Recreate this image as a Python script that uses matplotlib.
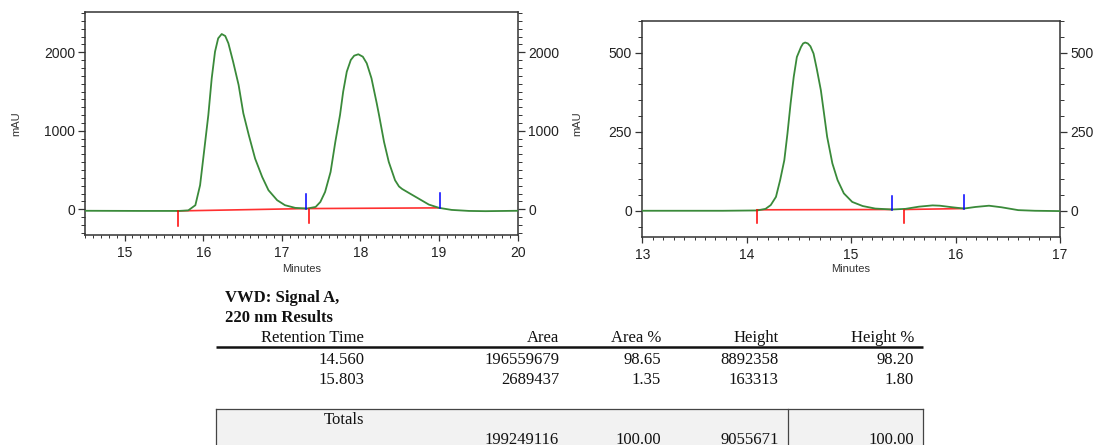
import matplotlib
matplotlib.use("Agg")
import matplotlib.pyplot as plt
from matplotlib.ticker import MultipleLocator

plt.rcParams["font.family"] = ["Liberation Sans", "DejaVu Sans"]

# left chromatogram (minutes, mAU)
time_left = [14.50, 15.20, 15.69, 15.81, 15.90, 15.96, 16.01, 16.065, 16.108, 16.15,
             16.19, 16.235, 16.28, 16.32, 16.38, 16.45, 16.51, 16.58, 16.66, 16.75,
             16.83, 16.94, 17.04, 17.17, 17.32, 17.43, 17.49, 17.55, 17.62, 17.68,
             17.74, 17.78, 17.826, 17.877, 17.92, 17.973, 18.03, 18.08, 18.14, 18.207,
             18.236, 18.30, 18.36, 18.44, 18.49, 18.53, 18.63, 18.74, 18.87, 19.00,
             19.16, 19.38, 19.59, 19.84, 20.00]
mau_left = [-20, -22, -22, -15, 51, 306, 730, 1201, 1669, 2008,
            2178, 2233, 2208, 2115, 1881, 1584, 1223, 943, 645, 411,
            242, 115, 51, 17, 8, 29, 93, 220, 475, 857,
            1201, 1498, 1753, 1902, 1957, 1975, 1944, 1860, 1669, 1350,
            1201, 857, 603, 369, 290, 258, 199, 135, 59, 17,
            -9, -22, -25, -22, -20]
# peak start / end events (time, mAU at baseline)
start_t_left = [15.675, 17.34]
start_y_left = [-22, 8]
end_t_left = [17.31, 19.01]
end_y_left = [8, 17]

# right chromatogram
time_right = [13.00, 13.77, 14.10, 14.18, 14.23, 14.28, 14.32, 14.36, 14.39, 14.42,
              14.45, 14.48, 14.52, 14.54, 14.56, 14.585, 14.61, 14.64, 14.67, 14.71,
              14.74, 14.77, 14.82, 14.87, 14.93, 15.01, 15.11, 15.23, 15.39, 15.52,
              15.65, 15.78, 15.85, 15.97, 16.08, 16.19, 16.32, 16.44, 16.60, 16.76,
              17.00]
mau_right = [0, 0, 1, 6, 18, 44, 97, 160, 244, 339,
             423, 486, 518, 529, 532, 529, 520, 497, 450, 381,
             308, 234, 150, 97, 55, 28, 15, 7, 4, 6,
             13, 17, 16, 11, 7, 12, 16, 11, 2, 0,
             -1]
start_t_right = [14.10, 15.51]
start_y_right = [3, 4]
end_t_right = [15.39, 16.08]
end_y_right = [4, 7]

# results table
table_title = ["VWD: Signal A,", "220 nm Results"]
columns = ["Retention Time", "Area", "Area %", "Height", "Height %"]
rows = [["14.560", "196559679", "98.65", "8892358", "98.20"],
        ["15.803", "2689437", "1.35", "163313", "1.80"]]
totals = ["199249116", "100.00", "9055671", "100.00"]

W, H = 1093, 445
fig = plt.figure(figsize=(W / 100, H / 100), dpi=100)

green = "#3a8a3a"
axis_col = "#333333"


def chromatogram(rect, t, y, st, sy, et, ey, xlim, ylim, xmaj, ymaj, ymin, mark):
    ax = fig.add_axes(rect)
    ax.plot(t, y, color=green, lw=1.3, zorder=3)
    for i in range(len(st)):
        ax.plot([st[i], et[i]], [sy[i], ey[i]], color="#ff3030", lw=1.2, zorder=2)
        ax.plot([st[i], st[i]], [sy[i], sy[i] - mark], color="red", lw=1.1, zorder=4)
        ax.plot([et[i], et[i]], [ey[i], ey[i] + mark], color="blue", lw=1.1, zorder=4)
    ax.set_xlim(*xlim)
    ax.set_ylim(*ylim)
    ax.set_xticks(xmaj)
    ax.xaxis.set_minor_locator(MultipleLocator(0.1))
    ax.yaxis.set_major_locator(MultipleLocator(ymaj))
    ax.yaxis.set_minor_locator(MultipleLocator(ymin))
    for s in ax.spines.values():
        s.set_color(axis_col)
        s.set_linewidth(1.1)
    ax.tick_params(axis="y", which="both", left=True, right=True, labelleft=True,
                   labelright=True, direction="out", colors=axis_col,
                   labelcolor="#222222", labelsize=10)
    ax.tick_params(axis="y", which="major", length=5, width=0.9, pad=2.5)
    ax.tick_params(axis="y", which="minor", length=2.8, width=0.7)
    ax.tick_params(axis="x", which="both", direction="out", colors=axis_col,
                   labelcolor="#222222", labelsize=10)
    ax.tick_params(axis="x", which="major", length=4, width=0.9, pad=4)
    ax.tick_params(axis="x", which="minor", length=2.2, width=0.7)
    return ax


ax1 = chromatogram([85.3 / W, 1 - 234.7 / H, 432.4 / W, 222.4 / H],
                   time_left, mau_left, start_t_left, start_y_left, end_t_left, end_y_left,
                   (14.5, 20), (-325, 2510), range(15, 21), 1000, 100, 190)
ax2 = chromatogram([642.3 / W, 1 - 236.7 / H, 417.7 / W, 215.7 / H],
                   time_right, mau_right, start_t_right, start_y_right, end_t_right, end_y_right,
                   (13, 17), (-82, 600), range(13, 18), 250, 50, 43)

# overlay layer in pixel coordinates for labels and table
ov = fig.add_axes([0, 0, 1, 1], zorder=-1)
ov.set_xlim(0, W)
ov.set_ylim(H, 0)
ov.axis("off")

for x in (16, 577):
    ov.text(x, 124, "mAU", rotation=90, ha="center", va="center",
            fontsize=8, color="#333333")
for x in (301.5, 851):
    ov.text(x, 269, "Minutes", ha="center", va="center",
            fontsize=8, color="#333333")

serif = "Liberation Serif"
ov.text(225, 298.5, table_title[0], fontsize=12, family=serif, weight="bold",
        ha="left", va="center", color="#111111")
ov.text(225, 317.5, table_title[1], fontsize=12, family=serif, weight="bold",
        ha="left", va="center", color="#111111")

col_right = [364.3, 559, 661, 778.7, 914]
for x, name in zip(col_right, columns):
    ov.text(x, 338.5, name, fontsize=12, family=serif, ha="right", va="center",
            color="#111111")
ov.plot([215.7, 923], [347.3, 347.3], color="#111111", lw=1.8, solid_capstyle="butt")

for r, row in enumerate(rows):
    for x, val in zip(col_right, row):
        ov.text(x, 359.5 + r * 20, val, fontsize=12, family=serif, ha="right",
                va="center", color="#111111")

ov.fill_between([215.7, 922.7], 409.3, H, color="#f2f2f2", lw=0)
ov.plot([215.7, 922.7], [409.3, 409.3], color="#444444", lw=0.9)
for x in (215.7, 787.7, 922.7):
    ov.plot([x, x], [409.3, H], color="#444444", lw=0.9)
ov.text(364.3, 420, "Totals", fontsize=12, family=serif, ha="right", va="center",
        color="#111111")
for x, val in zip(col_right[1:], totals):
    ov.text(x, 439.5, val, fontsize=12, family=serif, ha="right", va="center",
            color="#111111")

fig.savefig("out.png", dpi=100)
